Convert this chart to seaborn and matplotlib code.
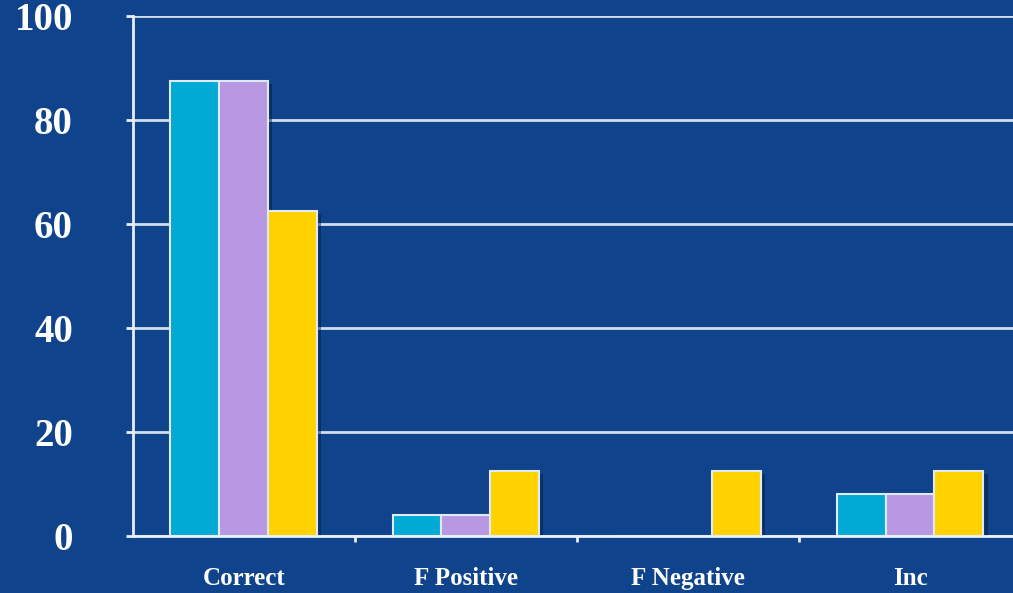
import pandas as pd
import numpy as np
import matplotlib
matplotlib.use("Agg")
import matplotlib.pyplot as plt
import matplotlib.patheffects as pe
import seaborn as sns

# Data
categories = ["Correct", "F Positive", "F Negative", "Inc"]
series_names = ["Series 1", "Series 2", "Series 3"]
series1 = [87.5, 4, 0, 8]
series2 = [87.5, 4, 0, 8]
series3 = [62.5, 12.5, 12.5, 12.5]
y_ticks = [0, 20, 40, 60, 80, 100]

rows = []
for name, vals in zip(series_names, [series1, series2, series3]):
    for cat, v in zip(categories, vals):
        rows.append({"category": cat, "series": name, "value": v})
df = pd.DataFrame(rows)

bg = "#0f438c"
palette = ["#00AAD4", "#B898E2", "#FFD200"]

sns.set_theme(style="white")
plt.rcParams["font.family"] = ["Liberation Serif", "DejaVu Serif"]

fig = plt.figure(figsize=(10.13, 5.93), dpi=100, facecolor=bg)
ax = fig.add_axes([0.131, 0.0961, 0.877, 0.877])
ax.set_facecolor(bg)

sns.barplot(data=df, x="category", y="value", hue="series", palette=palette,
            saturation=1, width=0.66, edgecolor="#dfeaf2", linewidth=1.5,
            legend=False, ax=ax)

# soft drop shadow like the original slide
for bar in ax.patches:
    bar.set_path_effects([pe.SimplePatchShadow(offset=(3, -2), alpha=0.5, shadow_rgbFace="#061c40"),
                          pe.Normal()])

ax.set_ylim(0, 100)
ax.set_xlim(-0.5, 3.5)
ax.set_yticks(y_ticks)
ax.yaxis.grid(True, color="#e8eef6", linewidth=2, alpha=0.9)
ax.set_axisbelow(True)

for side in ["top", "right"]:
    ax.spines[side].set_visible(False)
for side in ["left", "bottom"]:
    ax.spines[side].set_color("#e8eef6")
    ax.spines[side].set_linewidth(2)

ax.tick_params(axis="y", colors="#e8eef6", labelsize=28, length=5, width=2, pad=38, direction="out", left=True)
ax.tick_params(axis="x", colors="white", labelsize=18, length=0, pad=22)
for lbl in ax.get_yticklabels() + ax.get_xticklabels():
    lbl.set_fontweight("bold")
    lbl.set_color("white")

# small ticks between categories
ax.set_xticks([0.5, 1.5, 2.5], minor=True)
ax.tick_params(axis="x", which="minor", length=4, width=2, color="#e8eef6", bottom=True)

ax.set_xlabel("")
ax.set_ylabel("")

fig.savefig("out.png", dpi=100, facecolor=bg)
